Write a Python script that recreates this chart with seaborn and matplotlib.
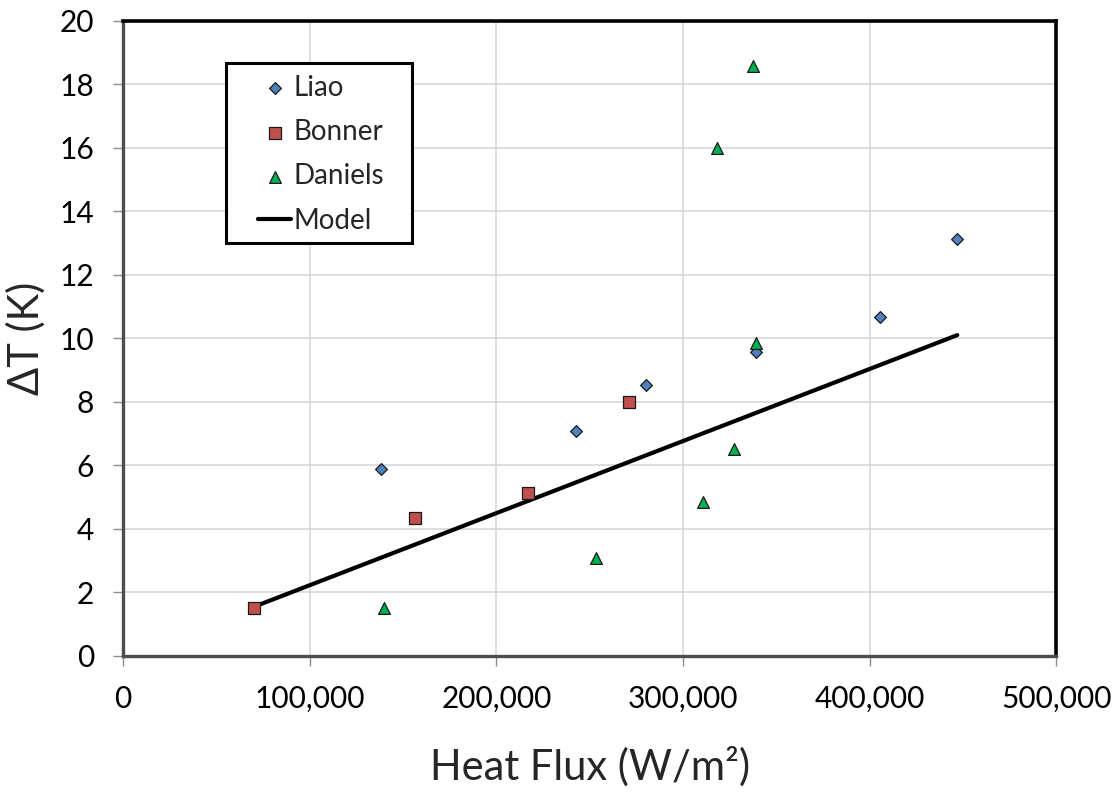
import matplotlib
matplotlib.use("Agg")
import matplotlib.pyplot as plt
import matplotlib.ticker as mticker
from matplotlib.patches import Rectangle
import seaborn as sns

# Measured wall superheat vs. heat flux for three data sets, plus the model line
liao_flux = [138000, 242700, 280100, 339200, 405400, 447000]
liao_dt = [5.90, 7.07, 8.52, 9.56, 10.68, 13.12]

bonner_flux = [70200, 156400, 217200, 271150]
bonner_dt = [1.52, 4.33, 5.13, 8.00]

daniels_flux = [139800, 253500, 310500, 327600, 339200, 318300, 337500]
daniels_dt = [1.50, 3.09, 4.84, 6.50, 9.86, 16.00, 18.57]

model_flux = [70200, 447000]
model_dt = [1.55, 10.10]

x_ticks = [0, 100000, 200000, 300000, 400000, 500000]
y_ticks = [0, 2, 4, 6, 8, 10, 12, 14, 16, 18, 20]

sns.set_style("white")
plt.rcParams["font.family"] = ["Lato", "DejaVu Sans"]

fig, ax = plt.subplots(figsize=(11.2, 7.96), dpi=100)
fig.subplots_adjust(left=0.110, right=0.943, top=0.974, bottom=0.176)

edge = "#1a1a1a"
sns.lineplot(x=model_flux, y=model_dt, ax=ax, color="black", linewidth=3.0,
             label="Model", zorder=3)
sns.scatterplot(x=liao_flux, y=liao_dt, ax=ax, marker="D", s=36, color="#4F81BD",
                edgecolor=edge, linewidth=0.9, label="Liao", zorder=4)
sns.scatterplot(x=bonner_flux, y=bonner_dt, ax=ax, marker="s", s=68, color="#C0504D",
                edgecolor=edge, linewidth=0.9, label="Bonner", zorder=4)
sns.scatterplot(x=daniels_flux, y=daniels_dt, ax=ax, marker="^", s=72, color="#00B050",
                edgecolor=edge, linewidth=0.9, label="Daniels", zorder=4)

ax.set_xlim(x_ticks[0], x_ticks[-1])
ax.set_ylim(y_ticks[0], y_ticks[-1])
ax.set_xticks(x_ticks)
ax.set_yticks(y_ticks)
ax.xaxis.set_major_formatter(mticker.FuncFormatter(lambda v, p: f"{int(v):,}"))

ax.grid(True, color="#d4d4d4", linewidth=1.1, zorder=0)
ax.set_axisbelow(True)

for side in ("top", "right"):
    ax.spines[side].set_color("black")
    ax.spines[side].set_linewidth(2.6)
for side in ("left", "bottom"):
    ax.spines[side].set_color("#4d4d4d")
    ax.spines[side].set_linewidth(2.4)
for side in ("top", "right", "left", "bottom"):
    ax.spines[side].set_visible(True)

ax.tick_params(axis="both", which="major", direction="out", length=7, width=1,
               color="#8c8c8c", labelsize=21.5, labelcolor="black", pad=14,
               bottom=True, left=True)

ax.set_xlabel("Heat Flux (W/m²)", fontsize=30, labelpad=24)
ax.set_ylabel("ΔT (K)", fontsize=30, labelpad=10)

# Legend: entries in a fixed order, framed by an explicit rectangle
handles, labels = ax.get_legend_handles_labels()
order = ["Liao", "Bonner", "Daniels", "Model"]
hmap = dict(zip(labels, handles))
leg = ax.legend([hmap[k] for k in order], order, loc="upper left",
                bbox_to_anchor=(0.1297, 0.937), borderpad=0, frameon=False,
                fontsize=20, handlelength=1.2, handletextpad=0.08,
                labelspacing=0.66)
leg.set_zorder(6)
ax.add_patch(Rectangle((0.1098, 0.6496), 0.2001, 0.2844, transform=ax.transAxes,
                       facecolor="white", edgecolor="black", linewidth=2.2,
                       zorder=5))

fig.savefig("out.png", dpi=100)
